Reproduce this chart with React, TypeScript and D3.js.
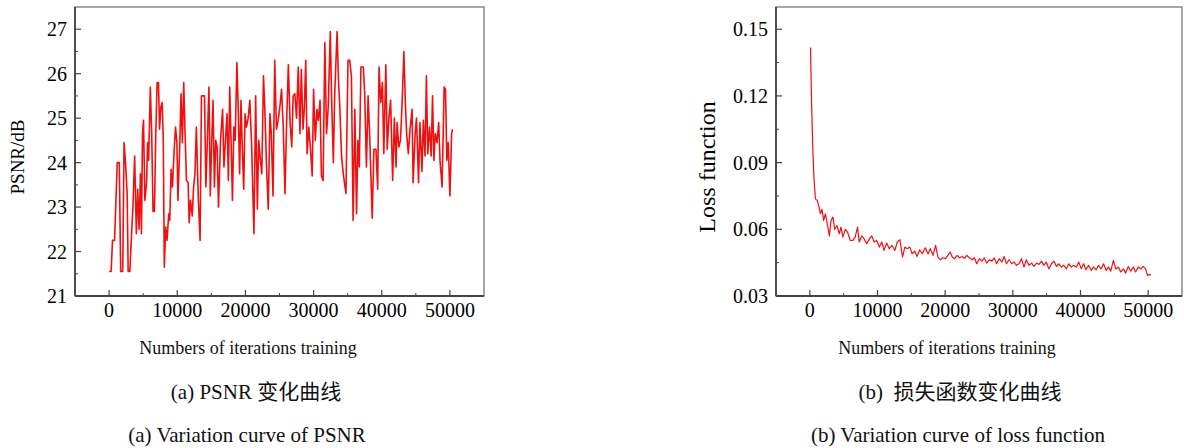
import React from 'react';
import * as d3 from 'd3';

// PSNR curve (iteration, dB)
const psnrIter = [
  0, 300, 500, 800, 1200, 1500, 1700, 2000, 2200, 2450, 2650, 2800, 3050, 3300, 3500, 3750, 4000, 4200, 4400, 4600,
  4750, 4900, 5050, 5250, 5500, 5650, 5800, 6050, 6250, 6450, 6650, 6850, 7050, 7250, 7400, 7600, 7800, 7950, 8100, 8300,
  8500, 8750, 8900, 9100, 9300, 9500, 9750, 9950, 10100, 10350, 10550, 10750, 10950, 11150, 11350, 11600, 11750, 11950, 12200, 12400,
  12600, 12800, 13100, 13350, 13550, 13800, 14000, 14200, 14450, 14650, 14850, 15050, 15250, 15450, 15650, 15850, 16050, 16350, 16650, 16850,
  17000, 17300, 17500, 17700, 17900, 18100, 18300, 18500, 18750, 18950, 19150, 19350, 19550, 19750, 19950, 20150, 20400, 20650, 20900, 21250,
  21500, 21750, 21950, 22200, 22400, 22650, 22850, 23100, 23350, 23600, 23800, 24050, 24300, 24550, 24800, 25050, 25300, 25550, 25800, 26050,
  26300, 26550, 26800, 27000, 27250, 27500, 27750, 28000, 28200, 28450, 28650, 28850, 29050, 29300, 29550, 29800, 30000, 30250, 30500, 30700,
  30950, 31150, 31400, 31650, 31900, 32150, 32450, 32650, 32900, 33100, 33450, 33650, 33850, 34100, 34350, 34750, 35050, 35300, 35550, 35800,
  36050, 36300, 36500, 36700, 36950, 37300, 37500, 37750, 38000, 38250, 38600, 38850, 39150, 39400, 39600, 39850, 40100, 40300, 40600, 40800,
  41050, 41300, 41600, 41850, 42100, 42250, 42500, 42750, 43000, 43250, 43450, 43650, 43900, 44150, 44450, 44600, 44900, 45100, 45400, 45600,
  45900, 46100, 46350, 46550, 46750, 47000, 47250, 47450, 47650, 47850, 48100, 48350, 48550, 48850, 49150, 49350, 49550, 49750, 50000, 50250,
  50400,
];
const psnrValue = [
  21.55, 21.55, 22.25, 22.25, 24.0, 24.0, 21.55, 21.55, 24.45, 23.9, 23.3, 21.55, 21.55, 22.4, 23.0, 24.15, 22.4, 23.4, 22.5, 23.75,
  22.4, 24.65, 24.95, 23.15, 23.55, 24.45, 24.05, 25.7, 24.65, 22.9, 22.9, 24.65, 25.8, 25.8, 24.75, 25.25, 25.35, 24.5, 21.65, 22.55,
  22.25, 22.85, 22.7, 23.85, 23.45, 24.15, 24.8, 24.45, 23.15, 24.3, 25.55, 24.45, 25.8, 24.65, 23.6, 23.55, 22.65, 23.15, 22.8, 23.45,
  23.75, 24.8, 23.15, 22.25, 25.5, 25.5, 25.5, 23.45, 24.65, 25.7, 23.25, 24.45, 25.4, 23.45, 24.5, 24.35, 23.0, 24.5, 25.2, 23.9,
  24.3, 25.1, 23.6, 25.7, 24.45, 23.15, 24.8, 24.5, 26.25, 25.2, 23.75, 25.4, 24.3, 23.4, 25.1, 24.8, 25.0, 25.4, 24.45, 22.4,
  25.5, 22.95, 24.5, 24.05, 23.75, 25.95, 25.2, 23.9, 22.95, 25.1, 24.65, 23.25, 26.3, 24.75, 24.95, 25.25, 25.65, 24.8, 23.3, 24.95,
  26.2, 24.9, 24.35, 25.5, 25.55, 25.0, 26.15, 24.65, 26.1, 24.75, 25.25, 26.3, 24.2, 24.8, 24.3, 23.7, 25.65, 24.5, 25.2, 24.95,
  25.4, 23.7, 23.6, 26.7, 24.65, 25.25, 26.95, 25.4, 24.0, 25.55, 26.95, 25.85, 25.25, 24.15, 23.75, 23.3, 26.3, 26.3, 25.95, 22.7,
  25.2, 22.85, 24.5, 23.9, 26.15, 26.15, 25.55, 23.9, 25.5, 24.5, 22.75, 24.3, 24.3, 23.4, 26.15, 25.35, 25.8, 24.2, 26.2, 24.3,
  25.0, 25.4, 23.6, 25.0, 23.9, 24.9, 24.35, 24.5, 25.4, 26.5, 25.4, 24.65, 24.2, 24.75, 25.2, 23.55, 24.65, 25.0, 23.55, 24.9,
  23.8, 24.95, 24.15, 25.95, 24.2, 24.8, 24.15, 25.5, 24.05, 24.65, 24.45, 24.9, 24.05, 23.45, 25.7, 25.65, 24.05, 24.45, 23.25, 24.65,
  24.75,
];

// loss curve (iteration, loss)
const lossIter = [
  100, 250, 450, 600, 830, 1080, 1320, 1560, 1800, 2050, 2300, 2540, 2890, 3130, 3420, 3670, 4010, 4350, 4600, 4890,
  5240, 5580, 5970, 6360, 6700, 7050, 7290, 7680, 8020, 8420, 8810, 9150, 9490, 9880, 10270, 10620, 10960, 11350, 11740, 12130,
  12570, 12920, 13310, 13700, 14040, 14380, 14780, 15120, 15510, 15850, 16240, 16630, 17070, 17470, 17810, 18200, 18590, 18930, 19280, 19670,
  20060, 20400, 20740, 21040, 21380, 21770, 22120, 22510, 22850, 23190, 23580, 23970, 24320, 24660, 25050, 25440, 25780, 26130, 26520, 26910,
  27250, 27600, 27990, 28380, 28720, 29060, 29450, 29840, 30190, 30530, 30920, 31260, 31650, 31990, 32390, 32780, 33120, 33510, 33860, 34250,
  34590, 34930, 35320, 35710, 36060, 36450, 36790, 37180, 37520, 37920, 38260, 38650, 38990, 39380, 39730, 40120, 40460, 40800, 41190, 41590,
  41930, 42320, 42660, 43050, 43400, 43790, 44130, 44470, 44860, 45210, 45600, 45940, 46330, 46670, 47060, 47410, 47800, 48140, 48530, 48920,
  49260, 49610, 49900, 50250, 50400,
];
const lossValue = [
  0.1418, 0.1178, 0.0954, 0.0834, 0.0737, 0.073, 0.0707, 0.067, 0.069, 0.064, 0.067, 0.063, 0.057, 0.064, 0.0655, 0.06, 0.0617, 0.058, 0.061, 0.0565,
  0.06, 0.0587, 0.055, 0.055, 0.0565, 0.061, 0.0543, 0.057, 0.0557, 0.0535, 0.0557, 0.057, 0.0543, 0.055, 0.052, 0.0543, 0.0505, 0.0538, 0.0513, 0.0528,
  0.0505, 0.0543, 0.0553, 0.0475, 0.052, 0.0513, 0.052, 0.049, 0.0502, 0.0478, 0.0508, 0.049, 0.0517, 0.049, 0.0513, 0.0483, 0.0528, 0.0475, 0.0463, 0.0472,
  0.0468, 0.0483, 0.0498, 0.0475, 0.0468, 0.0483, 0.0472, 0.0478, 0.0468, 0.0483, 0.0472, 0.0463, 0.0472, 0.0445, 0.0468, 0.0457, 0.0472, 0.0448, 0.0463, 0.0457,
  0.0472, 0.0445, 0.0468, 0.0453, 0.0478, 0.0445, 0.0463, 0.0445, 0.0453, 0.0438, 0.0445, 0.0468, 0.043, 0.0463, 0.0438, 0.0448, 0.0433, 0.0448, 0.0442, 0.0457,
  0.0438, 0.0453, 0.0422, 0.0445, 0.0457, 0.0433, 0.0445, 0.043, 0.0438, 0.0422, 0.0445, 0.043, 0.0438, 0.043, 0.0453, 0.0422, 0.0445, 0.0418, 0.0438, 0.0415,
  0.043, 0.0418, 0.0438, 0.0422, 0.0445, 0.0415, 0.043, 0.0412, 0.046, 0.0422, 0.043, 0.0408, 0.0422, 0.0403, 0.0433, 0.0412, 0.043, 0.0408, 0.043, 0.0422,
  0.0433, 0.0422, 0.0393, 0.0397, 0.0393,
];

const xTicks = [0, 10000, 20000, 30000, 40000, 50000];
const psnrTicks = [21, 22, 23, 24, 25, 26, 27];
const lossTicks = [0.03, 0.06, 0.09, 0.12, 0.15];

const serif = '"Liberation Serif", "Times New Roman", serif';
const cjk = '"Liberation Serif", "Noto Sans CJK SC", serif';

type PanelProps = {
  left: number;
  right: number;
  yDomain: [number, number];
  yTicks: number[];
  yFmt: (v: number) => string;
  iters: number[];
  values: number[];
  lineWidth: number;
  tickSize: number;
};

function Panel({ left, right, yDomain, yTicks, yFmt, iters, values, lineWidth, tickSize }: PanelProps) {
  const top = 7;
  const bottom = 296;
  const x = d3.scaleLinear().domain([-5000, 55000]).range([left, right]);
  const y = d3.scaleLinear().domain(yDomain).range([bottom, top]);
  const line = d3
    .line<number>()
    .x((d, i) => x(iters[i]))
    .y((d) => y(d));
  const step = yTicks[1] - yTicks[0];
  const yMinor = yTicks.map((t) => t + step / 2).filter((t) => t < yDomain[1]);
  const xMinor = xTicks.map((t) => t + 5000).filter((t) => t < 55000);

  return (
    <g>
      <rect x={left} y={top} width={right - left} height={bottom - top} fill="none" stroke="#8a8a8a" strokeWidth={1.5} />
      <line x1={left} x2={left} y1={top} y2={bottom} stroke="#444" strokeWidth={1.8} />
      <line x1={left} x2={right} y1={bottom} y2={bottom} stroke="#444" strokeWidth={1.8} />
      {yTicks.map((t) => (
        <g key={'y' + t}>
          <line x1={left} x2={left + 6} y1={y(t)} y2={y(t)} stroke="#444" strokeWidth={1.2} />
          <text x={left - 8} y={y(t)} dy="0.35em" textAnchor="end" fontSize={tickSize} fontFamily={serif} fill="#000">
            {yFmt(t)}
          </text>
        </g>
      ))}
      {yMinor.map((t) => (
        <line key={'ym' + t} x1={left} x2={left + 3} y1={y(t)} y2={y(t)} stroke="#444" strokeWidth={1} />
      ))}
      {xTicks.map((t) => (
        <g key={'x' + t}>
          <line x1={x(t)} x2={x(t)} y1={bottom} y2={bottom - 6} stroke="#444" strokeWidth={1.2} />
          <text x={x(t)} y={bottom + 21} textAnchor="middle" fontSize={tickSize} fontFamily={serif} fill="#000">
            {t}
          </text>
        </g>
      ))}
      {xMinor.map((t) => (
        <line key={'xm' + t} x1={x(t)} x2={x(t)} y1={bottom} y2={bottom - 3} stroke="#444" strokeWidth={1} />
      ))}
      <path d={line(values) ?? ''} fill="none" stroke="#f01010" strokeWidth={lineWidth} strokeLinejoin="round" />
    </g>
  );
}

export default function App() {
  return (
    <svg width={1184} height={448} style={{ position: 'absolute', left: 0, top: 0, background: '#fff' }}>
      <rect width={1184} height={448} fill="#fff" />
      <Panel
        left={75}
        right={484}
        yDomain={[21, 27.5]}
        yTicks={psnrTicks}
        yFmt={(v) => String(v)}
        iters={psnrIter}
        values={psnrValue}
        lineWidth={1.6}
        tickSize={20}
      />
      <Panel
        left={776}
        right={1182}
        yDomain={[0.03, 0.16]}
        yTicks={lossTicks}
        yFmt={(v) => v.toFixed(2)}
        iters={lossIter}
        values={lossValue}
        lineWidth={1.2}
        tickSize={20}
      />
      <text transform="translate(24,157) rotate(-90)" textAnchor="middle" fontSize={19} fontFamily={serif} fill="#000">
        PSNR/dB
      </text>
      <text transform="translate(715,167) rotate(-90)" textAnchor="middle" fontSize={24} fontFamily={serif} fill="#000">
        Loss function
      </text>
      <text x={248} y={354} textAnchor="middle" fontSize={18} fontFamily={serif} fill="#111">
        Numbers of iterations training
      </text>
      <text x={947} y={354} textAnchor="middle" fontSize={18} fontFamily={serif} fill="#111">
        Numbers of iterations training
      </text>
      <text x={256} y={399} textAnchor="middle" fontSize={21} fontFamily={cjk} fill="#111">
        (a) PSNR 变化曲线
      </text>
      <text x={960} y={399} textAnchor="middle" fontSize={21} fontFamily={cjk} fill="#111" xmlSpace="preserve">
        (b)  损失函数变化曲线
      </text>
      <text x={247} y={442} textAnchor="middle" fontSize={21} fontFamily={serif} fill="#111">
        (a) Variation curve of PSNR
      </text>
      <text x={958} y={442} textAnchor="middle" fontSize={21} fontFamily={serif} fill="#111">
        (b) Variation curve of loss function
      </text>
    </svg>
  );
}
